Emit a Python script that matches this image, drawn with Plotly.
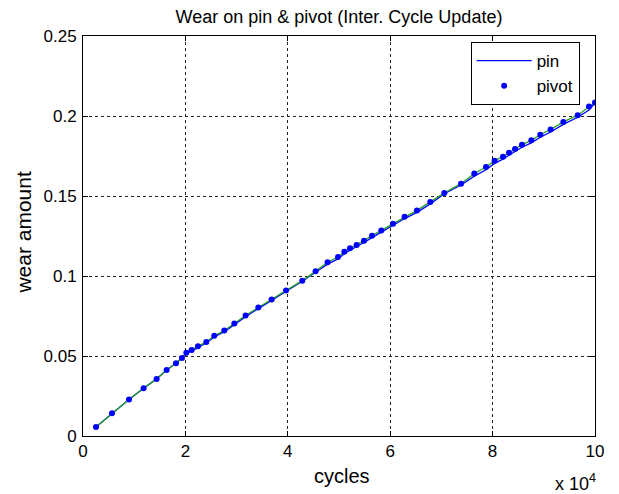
import plotly.graph_objects as go

# ---- data ----
cycles = [2540, 5660, 8980, 11840, 14380, 16330, 18160, 19340, 20180, 21210,
          22460, 24080, 25640, 27600, 29550, 31760, 34240, 36840, 39650, 42830,
          45430, 47770, 49800, 51040, 52150, 53440, 54880, 56450, 58260, 60550,
          62810, 65230, 67830, 70570, 73830, 76430, 78710, 80390, 82030, 83200,
          84380, 85740, 87560, 89320, 91330, 93810, 96620, 98830, 100000]

pivot_wear = [0.0057, 0.0142, 0.0228, 0.0299, 0.0357, 0.0413, 0.0455, 0.0488, 0.0520, 0.0538,
              0.0561, 0.0588, 0.0626, 0.0659, 0.0703, 0.0753, 0.0803, 0.0853, 0.0909, 0.0971,
              0.1029, 0.1086, 0.1119, 0.1151, 0.1173, 0.1194, 0.1221, 0.1252, 0.1285, 0.1327,
              0.1371, 0.1410, 0.1463, 0.1519, 0.1577, 0.1641, 0.1681, 0.1721, 0.1746, 0.1771,
              0.1794, 0.1821, 0.1848, 0.1883, 0.1916, 0.1963, 0.2005, 0.2060, 0.2085]

pin_wear = [0.0057, 0.0142, 0.0228, 0.0299, 0.0357, 0.0413, 0.0455, 0.0488, 0.0518, 0.0531,
            0.0554, 0.0581, 0.0619, 0.0652, 0.0696, 0.0746, 0.0796, 0.0847, 0.0905, 0.0967,
            0.1023, 0.1074, 0.1107, 0.1139, 0.1161, 0.1182, 0.1209, 0.1240, 0.1274, 0.1315,
            0.1359, 0.1398, 0.1451, 0.1514, 0.1569, 0.1624, 0.1664, 0.1704, 0.1730, 0.1755,
            0.1778, 0.1805, 0.1832, 0.1867, 0.1900, 0.1948, 0.1992, 0.2038, 0.2082]

x_tickvals = [0, 20000, 40000, 60000, 80000, 100000]
x_ticktext = ["0", "2", "4", "6", "8", "10"]
y_tickvals = [0, 0.05, 0.1, 0.15, 0.2, 0.25]
y_ticktext = ["0", "0.05", "0.1", "0.15", "0.2", "0.25"]

FONT = "Liberation Sans, Arial, Helvetica, sans-serif"

fig = go.Figure()
fig.add_trace(go.Scatter(x=cycles, y=pin_wear, mode="lines", name="pin",
                         line=dict(color="#0000ff", width=1.3)))
fig.add_trace(go.Scatter(x=cycles, y=pivot_wear, mode="lines", showlegend=False,
                         line=dict(color="#22a022", width=1.3)))
fig.add_trace(go.Scatter(x=cycles, y=pivot_wear, mode="markers", name="pivot",
                         marker=dict(color="#0000ff", size=6)))

axis_common = dict(showline=True, linecolor="black", linewidth=1, mirror="allticks",
                   ticks="inside", ticklen=5, tickcolor="black",
                   showgrid=True, gridcolor="#222222", gridwidth=1, griddash="dot",
                   zeroline=False, tickfont=dict(family=FONT, size=17, color="black"))

fig.update_xaxes(range=[0, 100000], tickvals=x_tickvals, ticktext=x_ticktext, **axis_common)
fig.update_yaxes(range=[0, 0.25], tickvals=y_tickvals, ticktext=y_ticktext,
                 ticklabelstandoff=2, **axis_common)

# page body has an 8px margin: figure is sized/placed so the plot area lands
# at x 83..595, y 36..436 in the window
fig.update_layout(
    width=611, height=486,
    margin=dict(l=75, r=24, t=28, b=58),
    paper_bgcolor="white", plot_bgcolor="white",
    font=dict(family=FONT, color="black"),
    title=dict(text="Wear on pin & pivot (Inter. Cycle Update)", x=0.5, xref="paper",
               y=1 - 9 / 486, yref="container", yanchor="middle",
               font=dict(family=FONT, size=18, color="black")),
    legend=dict(x=0.97, y=0.985, xanchor="right", yanchor="top",
                bgcolor="white", bordercolor="black", borderwidth=1,
                itemwidth=55,
                font=dict(family=FONT, size=17, color="black")),
    annotations=[
        dict(text="cycles", xref="paper", yref="paper", x=0.506, y=-0.101,
             xanchor="center", yanchor="middle", showarrow=False,
             font=dict(family=FONT, size=20, color="black")),
        dict(text="wear amount", xref="paper", yref="paper", x=-0.118, y=0.51,
             xanchor="center", yanchor="middle", textangle=-90, showarrow=False,
             font=dict(family=FONT, size=21, color="black")),
        dict(text="x 10<sup>4</sup>", xref="paper", yref="paper", x=1.006, y=-0.116,
             xanchor="right", yanchor="middle", showarrow=False,
             font=dict(family=FONT, size=18, color="black")),
    ],
)

fig.write_html("out.html")
